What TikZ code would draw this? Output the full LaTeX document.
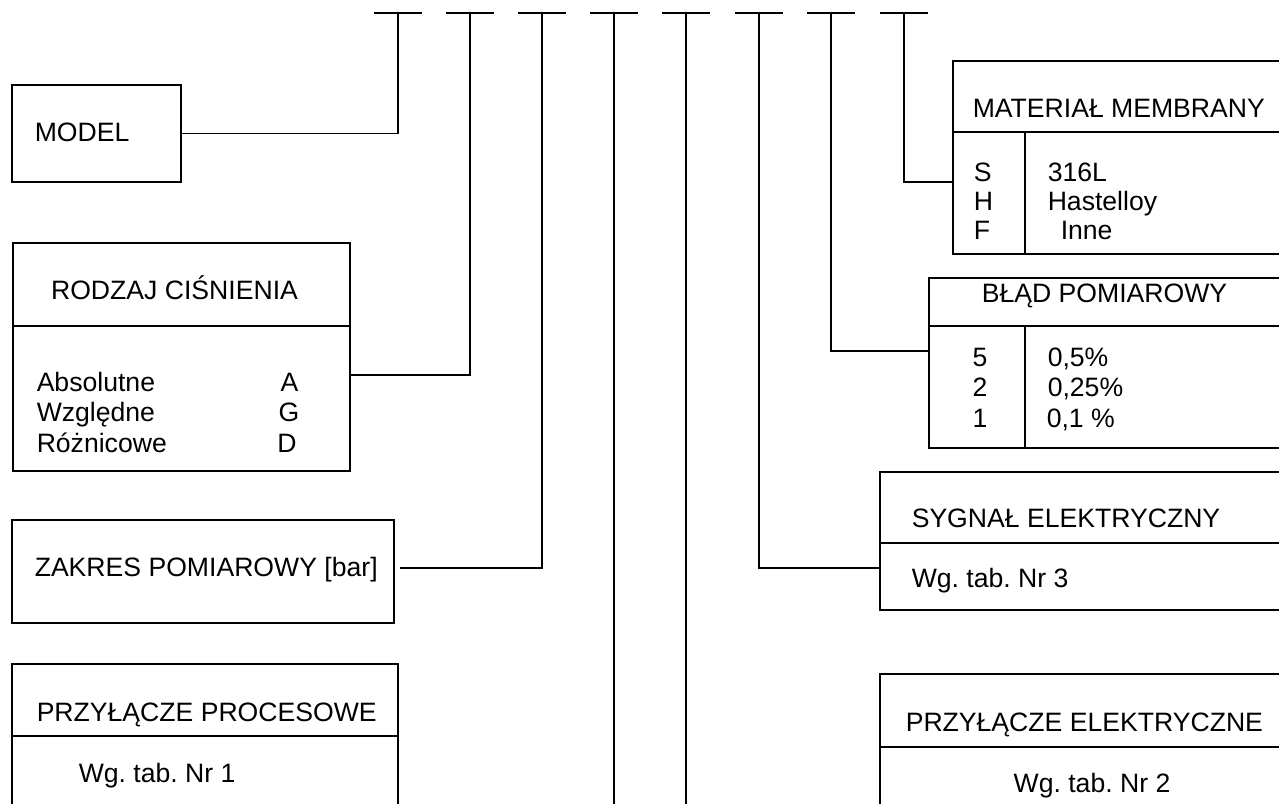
\documentclass[tikz,border=0pt]{standalone}
\usepackage{fontspec}
\setmainfont{Liberation Sans}
\frenchspacing
\begin{document}
\begin{tikzpicture}[x=1pt, y=-1pt, line width=1.5pt,
	font=\fontsize{26.6}{31}\selectfont,
	ramka/.style={draw, rectangle, inner sep=0pt, anchor=north west},
	napis/.style={inner sep=0pt, anchor=west, text height=18.5pt, text depth=0pt}]
	% Definicje
	\def\kol{1025} % kolumna w tabelach
	
	\useasboundingbox (0,0) rectangle (1279,803);
	\clip (0,0) rectangle (1279,803);
	
	% --- Kreski u gory ---
	\foreach \x [count=\i] in {398,470,542,614,686,759,831,904} {
		\coordinate (k\i) at (\x,13);
		\draw ([xshift=-24pt]k\i) -- ([xshift=24pt]k\i);
	}
	
	% --- Ramki po lewej ---
	\node[ramka, minimum width=169pt, minimum height=97pt] (model) at (11,84) {};
	\node[ramka, minimum width=337pt, minimum height=228pt] (rodzaj) at (12,242) {};
	\node[ramka, minimum width=382pt, minimum height=103pt] (zakres) at (11,519) {};
	\node[ramka, minimum width=386pt, minimum height=170pt] (procesowe) at (11,663) {};
	\draw (rodzaj.west |- 0,326) -- (rodzaj.east |- 0,326);
	\draw (procesowe.west |- 0,736) -- (procesowe.east |- 0,736);
	
	% --- Ramki po prawej ---
	\node[ramka, minimum width=338pt, minimum height=193pt] (material) at (952,60) {};
	\node[ramka, minimum width=362pt, minimum height=170pt] (blad) at (928,277) {};
	\node[ramka, minimum width=411pt, minimum height=138pt] (sygnal) at (879,471) {};
	\node[ramka, minimum width=411pt, minimum height=170pt] (elektryczne) at (879,673) {};
	\draw (material.west |- 0,132) -- (material.east |- 0,132);
	\draw (\kol,132) -- (\kol,253);
	\draw (blad.west |- 0,326) -- (blad.east |- 0,326);
	\draw (\kol,326) -- (\kol,447);
	\draw (sygnal.west |- 0,543) -- (sygnal.east |- 0,543);
	\draw (elektryczne.west |- 0,747) -- (elektryczne.east |- 0,747);
	
	% --- Napisy ---
	\node[napis] (tModel) at (34,132) {MODEL};
	\node[napis, anchor=center] (tRodzaj) at (174.5,290) {RODZAJ CIŚNIENIA};
	\node[napis] (tAbs) at (36,382) {Absolutne};
	\node[napis] (tWzg) at (36,412) {Względne};
	\node[napis] (tRoz) at (36,443) {Różnicowe};
	\node[napis, anchor=center] (tA) at (289.5,382) {A};
	\node[napis, anchor=center] (tG) at (289,412) {G};
	\node[napis, anchor=center] (tD) at (287,443) {D};
	\node[napis] (tZakres) at (34,567) {ZAKRES POMIAROWY [bar]};
	\node[napis] (tProc) at (36,712) {PRZYŁĄCZE PROCESOWE};
	\node[napis] (tTab1) at (78,773) {Wg. tab. Nr 1};
	
	\node[napis] (tMat) at (972,108) {MATERIAŁ MEMBRANY};
	\node[napis] (tS) at (973,172) {S};
	\node[napis] (tH) at (973,201) {H};
	\node[napis] (tF) at (973,230) {F};
	\node[napis] (t316) at (1047,172) {316L};
	\node[napis] (tHast) at (1047,201) {Hastelloy};
	\node[napis] (tInne) at (1060,230) {Inne};
	
	\node[napis, anchor=center] (tBlad) at (1104.5,293) {BŁĄD POMIAROWY};
	\node[napis, anchor=center] (t5) at (980,357) {5};
	\node[napis, anchor=center] (t2) at (980,387.5) {2};
	\node[napis, anchor=center] (t1) at (980,418) {1};
	\node[napis] (tP5) at (1047,357) {0,5\%};
	\node[napis] (tP25) at (1047,387.5) {0,25\%};
	\node[napis] (tP1) at (1046,418) {0,1 \%};
	
	\node[napis] (tSyg) at (911,518) {SYGNAŁ ELEKTRYCZNY};
	\node[napis] (tTab3) at (911,578) {Wg. tab. Nr 3};
	\node[napis] (tElek) at (905,722) {PRZYŁĄCZE ELEKTRYCZNE};
	\node[napis, anchor=center] (tTab2) at (1092,783) {Wg. tab. Nr 2};
	
	% --- Polaczenia ---
	\coordinate (d4) at (614,810);
	\coordinate (d5) at (686,810);
	\draw (model.east) -| (k1);
	\draw ([yshift=-18pt]rodzaj.east) -| (k2);
	\draw ([shift={(5pt,3.5pt)}]zakres.east) -| (k3);
	\draw (k4) -- (d4);
	\draw (k5) -- (d5);
	\draw (k6) |- ([yshift=-27pt]sygnal.west);
	\draw (k7) |- ([yshift=12pt]blad.west);
	\draw (k8) |- ([yshift=-24.5pt]material.west);
\end{tikzpicture}
\end{document}
